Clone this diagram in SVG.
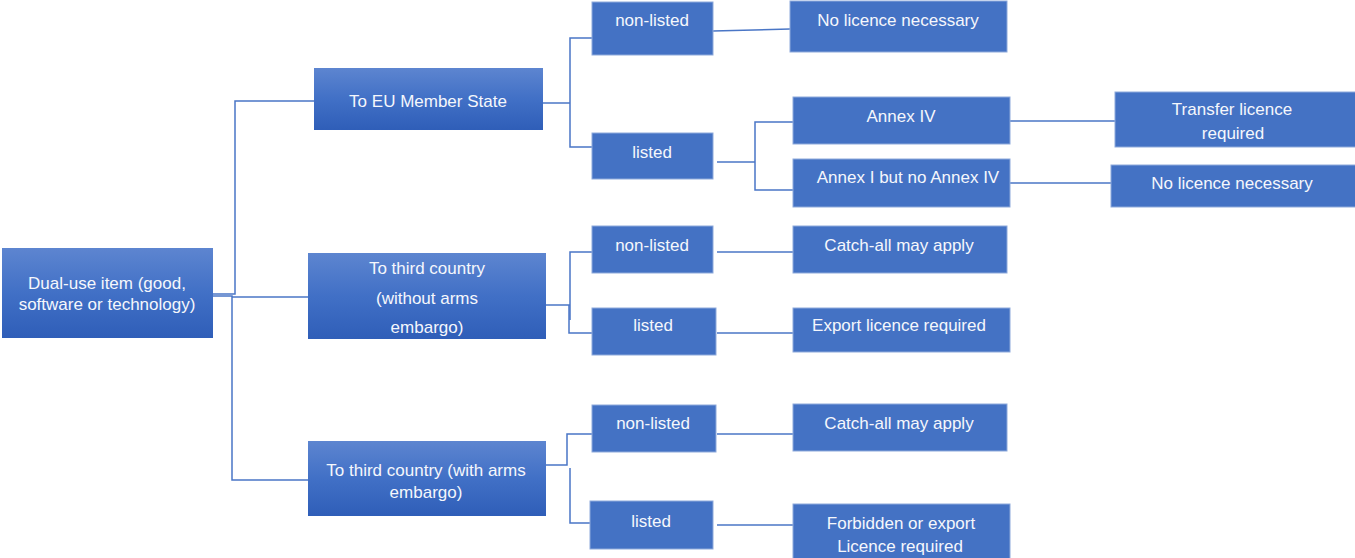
<svg xmlns="http://www.w3.org/2000/svg" width="1355" height="558" viewBox="0 0 1355 558">
<defs>
<linearGradient id="g" x1="0" y1="0" x2="0" y2="1">
<stop offset="0" stop-color="#5d85d0"/>
<stop offset="0.5" stop-color="#4170c6"/>
<stop offset="1" stop-color="#2f5eb8"/>
</linearGradient>
</defs>
<style>
.grad{fill:url(#g);stroke:none}
.flat{fill:#4472c4;stroke:#8eaadb;stroke-width:1}
text{font-family:"Liberation Sans",Arial,sans-serif;font-size:17px;fill:#f5f7fc;text-anchor:middle}
.c{fill:none;stroke:#4a76c6;stroke-width:1.5}
</style>
<rect width="1355" height="558" fill="#ffffff"/>
<g id="connectors">
<polyline class="c" points="213,294 235,294 235,101 314,101"/>
<polyline class="c" points="213,296 232,296 232,480 308,480"/>
<line class="c" x1="232" y1="297" x2="308" y2="297"/>
<polyline class="c" points="543,103 570,103"/>
<polyline class="c" points="592,38 570,38 570,147 592,147"/>
<polyline class="c" points="713,31 790,29"/>
<polyline class="c" points="717,162 755,162"/>
<polyline class="c" points="793,122 755,122 755,190 793,190"/>
<line class="c" x1="1010" y1="121" x2="1115" y2="121"/>
<line class="c" x1="1010" y1="183" x2="1111" y2="183"/>
<polyline class="c" points="546,305 570,305"/>
<polyline class="c" points="592,252 570,252 570,320"/>
<polyline class="c" points="569,305 569,333 592,333"/>
<line class="c" x1="717" y1="252" x2="793" y2="252"/>
<line class="c" x1="717" y1="333" x2="793" y2="333"/>
<polyline class="c" points="546,465 567,465 567,434 592,434"/>
<polyline class="c" points="570,468 570,523 590,523"/>
<line class="c" x1="717" y1="434" x2="793" y2="434"/>
<line class="c" x1="717" y1="525" x2="793" y2="525"/>
</g>
<g id="root"><rect class="grad" x="2" y="248" width="211" height="90"/><text x="107" y="289">Dual-use item (good,</text><text x="107" y="310">software or technology)</text></g>
<g id="eu"><rect class="grad" x="314" y="68" width="229" height="62"/><text x="428" y="107">To EU Member State</text></g>
<g id="third"><rect class="grad" x="308" y="253" width="238" height="86"/><text x="427" y="274">To third country</text><text x="427" y="304">(without arms</text><text x="427" y="333">embargo)</text></g>
<g id="embargo"><rect class="grad" x="308" y="441" width="238" height="75"/><text x="426" y="476">To third country (with arms</text><text x="426" y="498">embargo)</text></g>
<g id="eu-nonlisted"><rect class="flat" x="592" y="2" width="121" height="53"/><text x="652" y="26">non-listed</text></g>
<g id="eu-listed"><rect class="flat" x="592" y="133" width="121" height="46"/><text x="652" y="158">listed</text></g>
<g id="tc-nonlisted"><rect class="flat" x="592" y="226" width="121" height="47"/><text x="652" y="251">non-listed</text></g>
<g id="tc-listed"><rect class="flat" x="592" y="308" width="124" height="47"/><text x="653" y="331">listed</text></g>
<g id="em-nonlisted"><rect class="flat" x="592" y="405" width="124" height="47"/><text x="653" y="429">non-listed</text></g>
<g id="em-listed"><rect class="flat" x="590" y="501" width="123" height="48"/><text x="651" y="527">listed</text></g>
<g id="no-licence-1"><rect class="flat" x="790" y="1" width="217" height="51"/><text x="898" y="26">No licence necessary</text></g>
<g id="annex-iv"><rect class="flat" x="793" y="97" width="217" height="47"/><text x="901" y="122">Annex IV</text></g>
<g id="annex-i"><rect class="flat" x="793" y="159" width="217" height="48"/><text x="908" y="183">Annex I but no Annex IV</text></g>
<g id="catch-all-1"><rect class="flat" x="793" y="226" width="214" height="47"/><text x="899" y="251">Catch-all may apply</text></g>
<g id="export"><rect class="flat" x="793" y="308" width="217" height="44"/><text x="899" y="331">Export licence required</text></g>
<g id="catch-all-2"><rect class="flat" x="793" y="404" width="214" height="47"/><text x="899" y="429">Catch-all may apply</text></g>
<g id="forbidden"><rect class="flat" x="793" y="504" width="217" height="56"/><text x="901" y="529">Forbidden or export</text><text x="900" y="552">Licence required</text></g>
<g id="transfer"><rect class="flat" x="1115" y="92" width="242" height="55"/><text x="1232" y="115">Transfer licence</text><text x="1233" y="139">required</text></g>
<g id="no-licence-2"><rect class="flat" x="1111" y="165" width="246" height="42"/><text x="1232" y="189">No licence necessary</text></g>
</svg>
